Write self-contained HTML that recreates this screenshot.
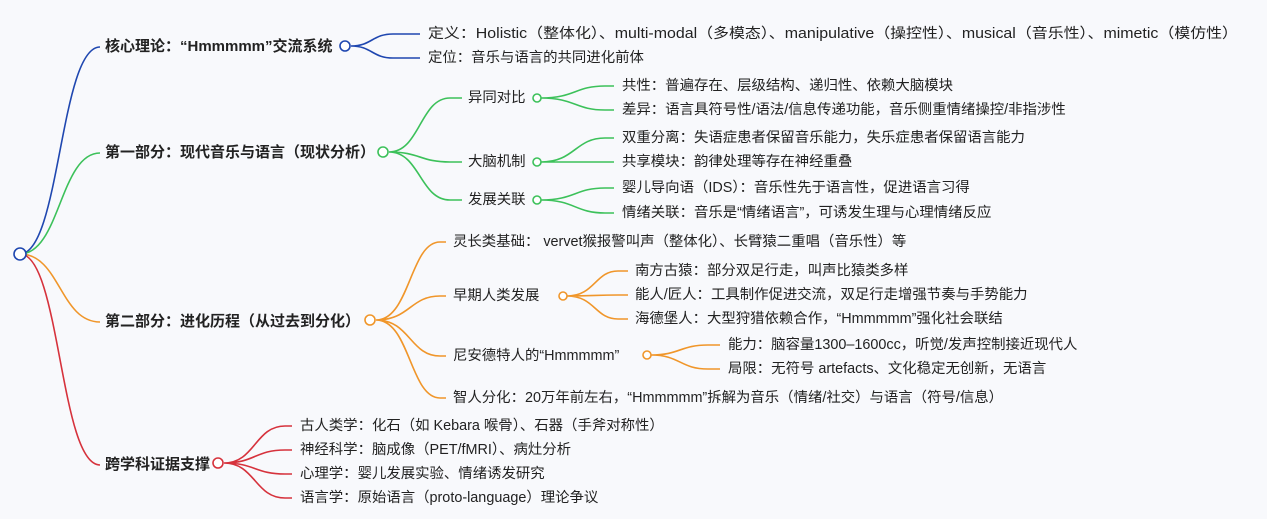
<!DOCTYPE html>
<html><head><meta charset="utf-8"><style>
body{margin:0;background:#f8f9fc}
svg{display:block}
text{font-family:"Liberation Sans","Noto Sans CJK SC",sans-serif;font-size:14.4px;fill:#222;dominant-baseline:middle}
.b{font-weight:bold;font-size:15px}
path{fill:none;stroke-width:1.6}
circle{fill:#fff;stroke-width:1.6}
</style></head><body>
<svg width="1267" height="519" viewBox="0 0 1267 519">
<path d="M20 254 C60 254 60 47 100 47" stroke="#1f47b0"/>
<path d="M20 254 C60 254 60 153 100 153" stroke="#3cc15a"/>
<path d="M20 254 C60 254 60 322 100 322" stroke="#f0962a"/>
<path d="M20 254 C60 254 60 465 100 465" stroke="#d6323c"/>
<circle cx="20" cy="254" r="6" stroke="#1f47b0"/>

<text x="105" y="47" class="b">核心理论：“Hmmmmm”交流系统</text>
<path d="M351 46 C372 46 372 34 393 34 L420 34 M351 46 C372 46 372 58 393 58 L420 58" stroke="#1f47b0"/>
<circle cx="345" cy="46" r="5" stroke="#1f47b0"/>
<text x="428" y="34" textLength="810" lengthAdjust="spacingAndGlyphs">定义：Holistic（整体化）、multi-modal（多模态）、manipulative（操控性）、musical（音乐性）、mimetic（模仿性）</text>
<text x="428" y="58">定位：音乐与语言的共同进化前体</text>

<text x="105" y="153" class="b">第一部分：现代音乐与语言（现状分析）</text>
<circle cx="383" cy="152" r="5" stroke="#3cc15a"/>
<path d="M389 152 C420 152 420 98 450 98 L462 98 M389 152 C420 152 420 162 450 162 L462 162 M389 152 C420 152 420 200 450 200 L462 200" stroke="#3cc15a"/>
<text x="468" y="98">异同对比</text>
<text x="468" y="162">大脑机制</text>
<text x="468" y="200">发展关联</text>
<g stroke="#3cc15a">
<circle cx="537" cy="98" r="4"/><circle cx="537" cy="162" r="4"/><circle cx="537" cy="200" r="4"/>
</g>
<path d="M541 98 C575 98 575 86 605 86 L614 86 M541 98 C575 98 575 110 605 110 L614 110 M541 162 C575 162 575 138 605 138 L614 138 M541 162 C575 162 575 162 605 162 L614 162 M541 200 C575 200 575 188 605 188 L614 188 M541 200 C575 200 575 213 605 213 L614 213" stroke="#3cc15a"/>
<text x="622" y="86">共性：普遍存在、层级结构、递归性、依赖大脑模块</text>
<text x="622" y="110">差异：语言具符号性/语法/信息传递功能，音乐侧重情绪操控/非指涉性</text>
<text x="622" y="138">双重分离：失语症患者保留音乐能力，失乐症患者保留语言能力</text>
<text x="622" y="162">共享模块：韵律处理等存在神经重叠</text>
<text x="622" y="188">婴儿导向语（IDS）：音乐性先于语言性，促进语言习得</text>
<text x="622" y="213">情绪关联：音乐是“情绪语言”，可诱发生理与心理情绪反应</text>

<text x="105" y="322" class="b">第二部分：进化历程（从过去到分化）</text>
<circle cx="370" cy="320" r="5" stroke="#f0962a"/>
<path d="M376 320 C410 320 410 242 440 242 L446 242 M376 320 C410 320 410 296 440 296 L446 296 M376 320 C410 320 410 356 440 356 L446 356 M376 320 C410 320 410 398 440 398 L446 398" stroke="#f0962a"/>
<text x="453" y="242">灵长类基础： vervet猴报警叫声（整体化）、长臂猿二重唱（音乐性）等</text>
<text x="453" y="296">早期人类发展</text>
<text x="453" y="356">尼安德特人的“Hmmmmm”</text>
<text x="453" y="398">智人分化：20万年前左右，“Hmmmmm”拆解为音乐（情绪/社交）与语言（符号/信息）</text>
<circle cx="563" cy="296" r="4" stroke="#f0962a"/>
<circle cx="647" cy="355" r="4" stroke="#f0962a"/>
<path d="M567 296 C595 296 595 271 618 271 L628 271 M567 296 C595 296 595 295 618 295 L628 295 M567 296 C595 296 595 319 618 319 L628 319 M651 355 C680 355 680 345 708 345 L720 345 M651 355 C680 355 680 369 708 369 L720 369" stroke="#f0962a"/>
<text x="635" y="271">南方古猿：部分双足行走，叫声比猿类多样</text>
<text x="635" y="295">能人/匠人：工具制作促进交流，双足行走增强节奏与手势能力</text>
<text x="635" y="319">海德堡人：大型狩猎依赖合作，“Hmmmmm”强化社会联结</text>
<text x="728" y="345">能力：脑容量1300–1600cc，听觉/发声控制接近现代人</text>
<text x="728" y="369">局限：无符号 artefacts、文化稳定无创新，无语言</text>

<text x="105" y="465" class="b">跨学科证据支撑</text>
<circle cx="218" cy="463" r="5" stroke="#d6323c"/>
<path d="M224 463 C255 463 255 426 285 426 L292 426 M224 463 C255 463 255 450 285 450 L292 450 M224 463 C255 463 255 474 285 474 L292 474 M224 463 C255 463 255 498 285 498 L292 498" stroke="#d6323c"/>
<text x="300" y="426">古人类学：化石（如 Kebara 喉骨）、石器（手斧对称性）</text>
<text x="300" y="450">神经科学：脑成像（PET/fMRI）、病灶分析</text>
<text x="300" y="474">心理学：婴儿发展实验、情绪诱发研究</text>
<text x="300" y="498">语言学：原始语言（proto-language）理论争议</text>
</svg>
</body></html>
